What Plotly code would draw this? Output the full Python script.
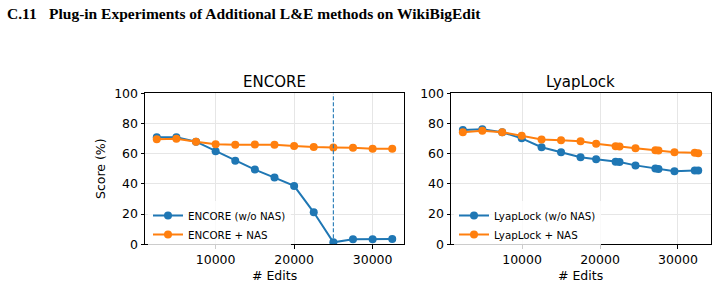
import plotly.graph_objects as go

# ---- data ----
enc_x = [2500, 5000, 7500, 10000, 12500, 15000, 17500, 20000, 22500, 25000, 27500, 30000, 32500]
enc_wo = [71.0, 71.0, 68.0, 61.7, 55.4, 49.5, 44.2, 38.7, 21.2, 1.3, 3.4, 3.4, 3.5]
enc_nas = [69.6, 70.0, 68.0, 66.3, 66.0, 66.2, 66.0, 65.2, 64.4, 64.2, 64.0, 63.3, 63.4]
enc_cut = 25000

lyap_x = [2400, 4900, 7450, 9950, 12500, 15000, 17500, 19500, 22000, 22500,
          24550, 27100, 27500, 29550, 32150, 32600]
lyap_wo = [75.8, 76.2, 74.3, 70.2, 64.3, 61.0, 57.7, 56.3, 54.7, 54.5,
           52.3, 50.3, 49.9, 48.4, 48.9, 48.9]
lyap_nas = [74.3, 75.3, 74.3, 72.0, 69.5, 69.0, 68.3, 66.6, 65.0, 64.8,
            63.6, 62.3, 62.1, 61.0, 60.6, 60.4]

x_ticks = [10000, 20000, 30000]
x_tick_text = ["10000", "20000", "30000"]
y_ticks = [0, 20, 40, 60, 80, 100]

BLUE = "#1f77b4"
ORANGE = "#ff7f0e"
W, H = 717, 289
FONT = "DejaVu Sans"

fig = go.Figure()

def add_series(x, y, name, color, xa, ya, legend):
    fig.add_trace(go.Scatter(
        x=x, y=y, name=name, mode="lines+markers",
        line=dict(color=color, width=2),
        marker=dict(color=color, size=8),
        xaxis=xa, yaxis=ya, legend=legend,
    ))

add_series(enc_x, enc_wo, "ENCORE (w/o NAS)", BLUE, "x", "y", "legend")
add_series(enc_x, enc_nas, "ENCORE + NAS", ORANGE, "x", "y", "legend")
add_series(lyap_x, lyap_wo, "LyapLock (w/o NAS)", BLUE, "x2", "y2", "legend2")
add_series(lyap_x, lyap_nas, "LyapLock + NAS", ORANGE, "x2", "y2", "legend2")

y0 = (H - 244.3) / H
y1 = (H - 93.4) / H
dl = [145 / W, 404 / W]
dr = [451 / W, 710.7 / W]

axis_common = dict(
    showline=True, linecolor="black", linewidth=1, mirror=True,
    ticks="outside", ticklen=3.5, tickwidth=1, tickcolor="black",
    showgrid=True, gridcolor="#e6e6e6", gridwidth=1,
    zeroline=False, tickfont=dict(family=FONT, size=12.5, color="black"),
    automargin=False,
)

leg_common = dict(xanchor="left", yanchor="top",
                  bgcolor="rgba(255,255,255,0.8)", borderwidth=0,
                  font=dict(family=FONT, size=10.3, color="black"),
                  tracegroupgap=0, itemwidth=30)

fig.update_layout(
    width=W, height=H, margin=dict(l=0, r=0, t=0, b=0, pad=0, autoexpand=False),
    paper_bgcolor="white", plot_bgcolor="white",
    showlegend=True,
    xaxis=dict(domain=dl, range=[1000, 34000], tickvals=x_ticks, ticktext=x_tick_text,
               anchor="y", **axis_common),
    yaxis=dict(domain=[y0, y1], range=[0, 100], tickvals=y_ticks, anchor="x", **axis_common),
    xaxis2=dict(domain=dr, range=[880, 34200], tickvals=x_ticks, ticktext=x_tick_text,
                anchor="y2", **axis_common),
    yaxis2=dict(domain=[y0, y1], range=[0, 100], tickvals=y_ticks, anchor="x2", **axis_common),
    legend=dict(x=148 / W, y=(H - 201) / H, **leg_common),
    legend2=dict(x=454 / W, y=(H - 201) / H, **leg_common),
)

fig.add_shape(type="line", xref="x", yref="y", x0=enc_cut, x1=enc_cut, y0=0, y1=100,
              line=dict(color=BLUE, width=1.1, dash="4px,2px"))

ann = []
HEAD_FONT = dict(family="Liberation Serif", size=15.5, color="black")
ann.append(dict(text="<b>C.11</b>", x=5 / W, y=1 - 14 / H, xref="paper", yref="paper",
                xanchor="left", yanchor="middle", showarrow=False, font=HEAD_FONT))
ann.append(dict(text="<b>Plug-in Experiments of Additional L&E methods on WikiBigEdit</b>",
                x=47 / W, y=1 - 14 / H, xref="paper", yref="paper",
                xanchor="left", yanchor="middle", showarrow=False, font=HEAD_FONT))
for t, cx in [("ENCORE", (145 + 404) / 2), ("LyapLock", (451 + 710.7) / 2)]:
    ann.append(dict(text=t, x=cx / W, y=1 - 81.5 / H, xref="paper", yref="paper",
                    xanchor="center", yanchor="middle", showarrow=False,
                    font=dict(family=FONT, size=15, color="black")))
for cx in [(145 + 404) / 2, (451 + 710.7) / 2]:
    ann.append(dict(text="# Edits", x=cx / W, y=1 - 275.5 / H, xref="paper", yref="paper",
                    xanchor="center", yanchor="middle", showarrow=False,
                    font=dict(family=FONT, size=12.5, color="black")))
ann.append(dict(text="Score (%)", x=100 / W, y=1 - 169 / H, xref="paper", yref="paper",
                xanchor="center", yanchor="middle", showarrow=False, textangle=-90,
                font=dict(family=FONT, size=12.5, color="black")))
fig.update_layout(annotations=ann)

fig.write_html("out.html")
